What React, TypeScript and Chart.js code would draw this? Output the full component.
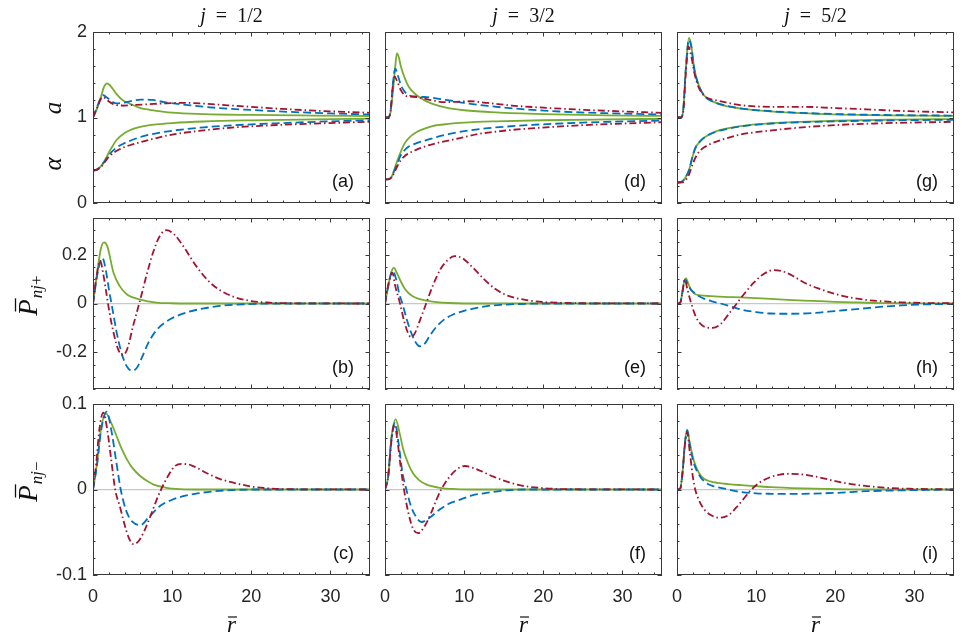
import { useEffect, useRef } from "react"
import { Chart, registerables } from "chart.js"

Chart.register(...registerables)

type Pt = [number, number]

// ---- labels / ticks ----
const columnTitles = ["1/2", "3/2", "5/2"]
const panelLabels = [
  ["(a)", "(d)", "(g)"],
  ["(b)", "(e)", "(h)"],
  ["(c)", "(f)", "(i)"],
]
const xMajor = [0, 10, 20, 30]
const yMajorTop = [0, 1, 2]
const yMajorPlus = [-0.2, 0, 0.2]
const yMajorMinus = [-0.1, 0, 0.1]

// ---- row 1: a (upper) and alpha (lower) ----
const aJ1Green: Pt[] = [[0,1],[0.5,1.1],[1,1.24],[1.4,1.36],[1.77,1.4],[2.2,1.37],[3,1.27],[3.8,1.2],[4.7,1.16],[6,1.11],[7.2,1.09],[10,1.056],[14,1.04],[20,1.03],[28,1.022],[35,1.016]]
const aJ1Blue: Pt[] = [[0,1],[0.5,1.12],[1,1.23],[1.3,1.26],[1.8,1.23],[2.5,1.18],[3,1.165],[4,1.175],[5,1.195],[6,1.21],[7.5,1.205],[9,1.18],[12,1.145],[16,1.11],[20,1.088],[25,1.065],[30,1.048],[35,1.035]]
const aJ1Red: Pt[] = [[0,1],[0.5,1.11],[1,1.22],[1.3,1.24],[1.8,1.2],[2.5,1.16],[3,1.145],[4,1.14],[5,1.145],[7,1.155],[9,1.165],[11.5,1.172],[14,1.162],[17,1.143],[20,1.125],[24,1.1],[28,1.08],[35,1.055]]
const alphaJ1Green: Pt[] = [[0,0.38],[0.5,0.39],[1,0.43],[1.5,0.5],[2,0.59],[2.5,0.67],[3,0.74],[4,0.82],[5,0.865],[6.5,0.9],[8,0.92],[10,0.935],[14,0.953],[20,0.967],[28,0.979],[35,0.986]]
const alphaJ1Blue: Pt[] = [[0,0.38],[0.5,0.39],[1,0.43],[1.5,0.49],[2,0.56],[3,0.65],[4,0.7],[5,0.74],[6.5,0.785],[8,0.815],[10,0.845],[14,0.885],[18,0.91],[24,0.935],[30,0.955],[35,0.968]]
const alphaJ1Red: Pt[] = [[0,0.38],[0.5,0.39],[1,0.42],[1.5,0.48],[2,0.54],[3,0.61],[4,0.655],[5,0.685],[6.5,0.725],[8,0.76],[10,0.8],[14,0.85],[18,0.885],[24,0.915],[30,0.935],[35,0.95]]

const aJ3Green: Pt[] = [[0,1],[0.4,1],[0.7,1.06],[1,1.3],[1.3,1.6],[1.5,1.75],[1.7,1.72],[2,1.6],[2.5,1.46],[3,1.36],[4,1.26],[5,1.2],[6,1.16],[8,1.11],[10,1.085],[14,1.06],[20,1.04],[28,1.025],[35,1.018]]
const aJ3Blue: Pt[] = [[0,1],[0.4,1],[0.7,1.08],[1,1.4],[1.3,1.57],[1.6,1.5],[2,1.38],[2.5,1.3],[3,1.26],[4,1.245],[5,1.24],[6,1.23],[7,1.215],[8.5,1.195],[10,1.17],[13,1.135],[17,1.1],[22,1.07],[28,1.05],[35,1.035]]
const aJ3Red: Pt[] = [[0,1],[0.4,1],[0.7,1.07],[1,1.38],[1.2,1.48],[1.5,1.43],[2,1.32],[2.5,1.26],[3,1.245],[4,1.24],[5,1.22],[6,1.2],[7.5,1.18],[9,1.183],[10.7,1.19],[13,1.17],[16,1.14],[20,1.115],[26,1.086],[35,1.055]]
const alphaJ3Green: Pt[] = [[0,0.277],[0.5,0.28],[0.8,0.3],[1.1,0.37],[1.5,0.48],[2,0.6],[2.5,0.7],[3,0.76],[4,0.83],[5,0.87],[6,0.9],[8,0.925],[10,0.94],[14,0.955],[20,0.968],[28,0.978],[35,0.985]]
const alphaJ3Blue: Pt[] = [[0,0.277],[0.5,0.28],[0.8,0.3],[1.1,0.36],[1.5,0.45],[2,0.56],[2.5,0.62],[3,0.66],[4,0.7],[5,0.73],[6.5,0.77],[8,0.805],[10,0.84],[13,0.875],[18,0.91],[25,0.94],[35,0.965]]
const alphaJ3Red: Pt[] = [[0,0.277],[0.5,0.28],[0.8,0.3],[1.1,0.34],[1.5,0.42],[2,0.5],[2.5,0.55],[3,0.58],[4,0.625],[5,0.66],[6.5,0.7],[8,0.73],[10,0.77],[12,0.81],[15,0.845],[18,0.87],[25,0.91],[35,0.945]]

const aJ5Green: Pt[] = [[0,1],[0.5,1],[0.8,1.1],[1.1,1.55],[1.5,1.93],[1.8,1.85],[2.15,1.59],[2.6,1.42],[3.4,1.26],[4.7,1.18],[6.4,1.13],[8.5,1.1],[10.6,1.08],[14.8,1.055],[23,1.03],[35,1.018]]
const aJ5Blue: Pt[] = [[0,1],[0.5,1],[0.8,1.1],[1.1,1.55],[1.5,1.91],[1.8,1.83],[2.15,1.58],[2.6,1.41],[3.4,1.26],[4.7,1.18],[6.4,1.135],[8.5,1.1],[10.6,1.082],[14.8,1.058],[23,1.034],[35,1.022]]
const aJ5Red: Pt[] = [[0,1],[0.5,1],[0.8,1.08],[1.1,1.5],[1.45,1.83],[1.8,1.72],[2.2,1.52],[2.7,1.36],[3.5,1.25],[5,1.2],[6.5,1.17],[8,1.145],[10,1.13],[12,1.125],[16,1.125],[20,1.11],[24,1.095],[28,1.078],[35,1.06]]
const alphaJ5Green: Pt[] = [[0,0.246],[0.6,0.25],[1,0.29],[1.5,0.38],[1.9,0.52],[2.3,0.64],[3,0.73],[3.5,0.77],[5,0.84],[6.5,0.875],[8,0.9],[12,0.935],[20,0.962],[28,0.975],[35,0.982]]
const alphaJ5Blue: Pt[] = [[0,0.246],[0.6,0.25],[1,0.29],[1.5,0.38],[1.9,0.52],[2.3,0.64],[3,0.73],[3.5,0.77],[5,0.835],[6.5,0.87],[8,0.895],[12,0.93],[20,0.955],[28,0.967],[35,0.974]]
const alphaJ5Red: Pt[] = [[0,0.234],[0.6,0.24],[1,0.26],[1.5,0.33],[2,0.46],[2.5,0.56],[3,0.62],[4,0.68],[6,0.75],[8,0.8],[12,0.85],[18,0.9],[25,0.93],[35,0.95]]

// ---- row 2: P_{nj+} ----
const pPlusJ1Green: Pt[] = [[0,0],[0.5,0.12],[1,0.225],[1.4,0.25],[1.8,0.235],[2.6,0.125],[3.4,0.07],[4.3,0.037],[6,0.016],[8,0.004],[10,0.001],[12,0],[35,0]]
const pPlusJ1Blue: Pt[] = [[0,0],[0.5,0.11],[1,0.18],[1.2,0.186],[1.6,0.14],[2,0.06],[2.5,-0.03],[3,-0.12],[3.5,-0.19],[4,-0.24],[4.5,-0.268],[4.9,-0.275],[5.5,-0.265],[6.2,-0.22],[7,-0.16],[8,-0.11],[9,-0.08],[10,-0.06],[12,-0.035],[14,-0.02],[16,-0.01],[18,-0.005],[21,-0.001],[25,0],[35,0]]
const pPlusJ1Red: Pt[] = [[0,0],[0.4,0.1],[0.9,0.175],[1.3,0.12],[1.7,0.04],[2.1,-0.04],[2.6,-0.12],[3.2,-0.19],[3.8,-0.212],[4.4,-0.18],[5,-0.1],[5.5,-0.04],[6,0.02],[6.8,0.12],[7.6,0.21],[8.5,0.28],[9.3,0.3],[10.2,0.285],[11.5,0.23],[13,0.155],[14.5,0.095],[16,0.055],[18,0.025],[20,0.01],[22,0.004],[25,0.001],[35,0]]

const pPlusJ3Green: Pt[] = [[0,0],[0.4,0.07],[0.8,0.13],[1.14,0.146],[1.5,0.125],[2,0.09],[2.5,0.06],[3,0.042],[3.5,0.03],[4.2,0.02],[5.2,0.012],[6.5,0.006],[8,0.002],[10,0],[35,0]]
const pPlusJ3Blue: Pt[] = [[0,0],[0.4,0.07],[0.8,0.125],[1,0.133],[1.4,0.1],[1.8,0.04],[2.2,0],[2.7,-0.06],[3.2,-0.11],[3.8,-0.155],[4.4,-0.175],[5,-0.165],[5.7,-0.13],[6.5,-0.095],[7.5,-0.065],[8.6,-0.045],[10,-0.03],[11.6,-0.018],[13,-0.01],[14.5,-0.006],[17,-0.002],[20,0],[35,0]]
const pPlusJ3Red: Pt[] = [[0,0],[0.4,0.075],[0.93,0.126],[1.3,0.07],[1.9,0],[2.4,-0.07],[2.9,-0.12],[3.3,-0.138],[3.8,-0.12],[4.4,-0.07],[5.2,0],[6,0.07],[7,0.14],[8,0.18],[8.8,0.194],[9.8,0.185],[11,0.15],[12.5,0.1],[14,0.058],[15.5,0.032],[17.9,0.014],[20,0.006],[22,0.003],[25,0.001],[35,0]]

const pPlusJ5Green: Pt[] = [[0,0],[0.4,0.003],[0.7,0.05],[0.9,0.09],[1.14,0.103],[1.5,0.075],[1.9,0.05],[2.4,0.037],[3,0.033],[4.3,0.03],[6,0.027],[8.1,0.025],[10,0.022],[11.9,0.019],[14,0.015],[16,0.012],[18,0.0095],[19.9,0.007],[22,0.005],[24,0.003],[26,0.0018],[28,0.001],[31,0.0004],[35,0]]
const pPlusJ5Blue: Pt[] = [[0,0],[0.4,0.003],[0.7,0.05],[0.9,0.088],[1.05,0.098],[1.4,0.075],[1.8,0.055],[2.2,0.044],[2.8,0.03],[3.4,0.02],[4.4,0.009],[5.5,0],[6.8,-0.012],[8.1,-0.025],[10,-0.035],[11.9,-0.041],[14,-0.042],[16,-0.041],[18,-0.037],[19.9,-0.031],[22,-0.025],[24,-0.019],[26,-0.013],[28.3,-0.008],[31,-0.004],[35,-0.002]]
const pPlusJ5Red: Pt[] = [[0,0],[0.4,0.003],[0.7,0.05],[0.9,0.09],[1,0.098],[1.3,0.06],[1.8,0],[2.4,-0.055],[3.2,-0.09],[4.5,-0.1],[5.5,-0.085],[6.5,-0.045],[7.55,0],[8.5,0.04],[9.7,0.085],[11,0.122],[12.3,0.137],[13.5,0.13],[14.8,0.11],[16.1,0.085],[18,0.06],[19.9,0.04],[22,0.024],[24.1,0.014],[26,0.009],[28.3,0.005],[31,0.002],[35,0.001]]

// ---- row 3: P_{nj-} ----
const pMinusJ1Green: Pt[] = [[0,0],[0.5,0.03],[1,0.07],[1.65,0.089],[2.2,0.08],[3,0.062],[3.6,0.048],[4.3,0.035],[5,0.025],[6,0.0155],[7,0.009],[7.6,0.006],[9.3,0.002],[11,0.0005],[14,0],[35,0]]
const pMinusJ1Blue: Pt[] = [[0,0],[0.5,0.028],[1,0.068],[1.73,0.091],[2.3,0.07],[2.9,0.035],[3.5,0],[4.2,-0.025],[5,-0.038],[6,-0.0415],[7,-0.033],[8.5,-0.019],[10,-0.012],[11.4,-0.0078],[12.9,-0.005],[14.4,-0.003],[16,-0.0015],[18,-0.0005],[20,0],[35,0]]
const pMinusJ1Red: Pt[] = [[0,0],[0.4,0.03],[0.8,0.07],[1.3,0.09],[1.8,0.07],[2.3,0.035],[2.8,0],[3.4,-0.02],[3.9,-0.038],[4.5,-0.056],[5.1,-0.064],[5.8,-0.06],[6.5,-0.048],[7.3,-0.03],[8,-0.013],[8.6,0],[9.5,0.016],[10.3,0.027],[11.2,0.03],[12.5,0.028],[14.4,0.019],[16,0.0125],[17.8,0.0078],[20.3,0.003],[22,0.0015],[24,0.0005],[35,0]]

const pMinusJ3Green: Pt[] = [[0,0],[0.4,0.015],[0.8,0.06],[1.35,0.082],[1.8,0.068],[2.3,0.047],[2.9,0.031],[3.5,0.0196],[4.3,0.011],[5.2,0.006],[6.9,0.002],[9,0.0005],[12,0],[35,0]]
const pMinusJ3Blue: Pt[] = [[0,0],[0.4,0.015],[0.8,0.058],[1.27,0.078],[1.7,0.055],[2.2,0.02],[2.7,0],[3.3,-0.02],[4,-0.033],[4.6,-0.038],[5.5,-0.034],[6.9,-0.0235],[8,-0.017],[9.5,-0.0118],[11,-0.007],[12.8,-0.004],[15.4,-0.001],[18,0],[35,0]]
const pMinusJ3Red: Pt[] = [[0,0],[0.4,0.015],[0.8,0.056],[1.2,0.076],[1.6,0.055],[2,0.025],[2.4,0],[2.9,-0.025],[3.5,-0.045],[4.2,-0.051],[5,-0.043],[5.8,-0.028],[6.5,-0.012],[7.1,0],[8,0.013],[9,0.023],[10.1,0.0275],[11.5,0.024],[13.7,0.015],[15.5,0.009],[17,0.005],[20,0.0016],[23,0.0004],[35,0]]

const pMinusJ5Green: Pt[] = [[0,0],[0.4,0.001],[0.7,0.02],[1,0.055],[1.3,0.07],[1.6,0.055],[2.15,0.033],[2.8,0.019],[3.4,0.0125],[4.2,0.0095],[5.1,0.0078],[6.5,0.0063],[8.1,0.0051],[10,0.0039],[11.9,0.0027],[14,0.0019],[16,0.0012],[19,0.0006],[22,0.0002],[26,0],[35,0]]
const pMinusJ5Blue: Pt[] = [[0,0],[0.4,0.001],[0.7,0.02],[1,0.054],[1.3,0.069],[1.6,0.053],[2.15,0.03],[2.8,0.017],[3.4,0.0098],[4.4,0.0045],[5.5,0.002],[6.5,0],[8.1,-0.003],[10,-0.0045],[11.9,-0.005],[14,-0.0052],[16,-0.005],[19.9,-0.004],[24,-0.002],[28.3,-0.001],[35,0]]
const pMinusJ5Red: Pt[] = [[0,0],[0.4,0.001],[0.7,0.02],[1,0.052],[1.27,0.067],[1.6,0.045],[2,0.015],[2.3,0],[2.8,-0.013],[3.5,-0.024],[4.5,-0.031],[5.5,-0.033],[6.5,-0.03],[7.5,-0.021],[8.5,-0.01],[9.4,0],[10.5,0.0085],[11.8,0.0145],[13,0.0175],[14.2,0.0184],[15.5,0.018],[17,0.016],[18.2,0.0137],[20,0.0098],[22,0.0063],[24,0.004],[25.8,0.0024],[28,0.0012],[30,0.0008],[32,0.0004],[35,0.0002]]

const GREEN = "#77AC30"
const BLUE = "#0072BD"
const RED = "#A2142F"
const AXIS = "#383838"

// red first so it sits on top (chart.js draws dataset 0 last)
const panelSeries: [Pt[], string][][][] = [
  [
    [[aJ1Red, RED], [alphaJ1Red, RED], [aJ1Blue, BLUE], [alphaJ1Blue, BLUE], [aJ1Green, GREEN], [alphaJ1Green, GREEN]],
    [[aJ3Red, RED], [alphaJ3Red, RED], [aJ3Blue, BLUE], [alphaJ3Blue, BLUE], [aJ3Green, GREEN], [alphaJ3Green, GREEN]],
    [[aJ5Red, RED], [alphaJ5Red, RED], [aJ5Blue, BLUE], [alphaJ5Blue, BLUE], [aJ5Green, GREEN], [alphaJ5Green, GREEN]],
  ],
  [
    [[pPlusJ1Red, RED], [pPlusJ1Blue, BLUE], [pPlusJ1Green, GREEN]],
    [[pPlusJ3Red, RED], [pPlusJ3Blue, BLUE], [pPlusJ3Green, GREEN]],
    [[pPlusJ5Red, RED], [pPlusJ5Blue, BLUE], [pPlusJ5Green, GREEN]],
  ],
  [
    [[pMinusJ1Red, RED], [pMinusJ1Blue, BLUE], [pMinusJ1Green, GREEN]],
    [[pMinusJ3Red, RED], [pMinusJ3Blue, BLUE], [pMinusJ3Green, GREEN]],
    [[pMinusJ5Red, RED], [pMinusJ5Blue, BLUE], [pMinusJ5Green, GREEN]],
  ],
]

const rowAxes = [
  { min: 0, max: 2, step: 0.2, majors: yMajorTop, zero: false },
  { min: -0.35, max: 0.35, step: 0.05, majors: yMajorPlus, zero: true },
  { min: -0.1, max: 0.1, step: 0.02, majors: yMajorMinus, zero: true },
]

// layout (px)
const PLOT_LEFT = [93, 385, 677]
const PLOT_TOP = [32, 218, 404]
const PLOT_W = 277
const PLOT_H = 171
const PAD_L = 90
const PAD_R = 12
const PAD_T = 32
const PAD_B = 64

const isIn = (list: number[], v: number) => list.some((m) => Math.abs(m - v) < 1e-6)

const dashFor = (c: string) => (c === BLUE ? [8, 4] : c === RED ? [7, 3, 1.5, 3] : [])

const decor = {
  id: "decor",
  afterDraw(chart: any, _args: any, o: any) {
    const { ctx, chartArea: a } = chart
    const xs = chart.scales.x
    const ys = chart.scales.y
    ctx.save()

    // inward tick marks on all four sides
    ctx.strokeStyle = AXIS
    ctx.lineWidth = 1
    ctx.beginPath()
    for (const t of xs.ticks) {
      const px = Math.round(xs.getPixelForValue(t.value)) + 0.5
      const len = isIn(xMajor, t.value) ? 4.5 : 2.5
      ctx.moveTo(px, a.bottom)
      ctx.lineTo(px, a.bottom - len)
      ctx.moveTo(px, a.top)
      ctx.lineTo(px, a.top + len)
    }
    for (const t of ys.ticks) {
      const py = Math.round(ys.getPixelForValue(t.value)) + 0.5
      const len = isIn(o.majors, t.value) ? 4.5 : 2.5
      ctx.moveTo(a.left, py)
      ctx.lineTo(a.left + len, py)
      ctx.moveTo(a.right, py)
      ctx.lineTo(a.right - len, py)
    }
    ctx.stroke()
    ctx.strokeRect(Math.round(a.left) + 0.5, Math.round(a.top) + 0.5, Math.round(a.right - a.left) - 1, Math.round(a.bottom - a.top) - 1)

    ctx.fillStyle = "#111"
    ctx.strokeStyle = "#111"

    // panel letter
    ctx.font = '18px "Liberation Sans"'
    ctx.textAlign = "right"
    ctx.textBaseline = "middle"
    ctx.fillText(o.label, a.right - 16, a.bottom - 21)

    ctx.textAlign = "left"
    ctx.textBaseline = "alphabetic"

    // column title  j = 1/2
    if (o.colTitle) {
      const fi = 'italic 20px "Liberation Serif"'
      const fr = '20px "Liberation Serif"'
      const rest = "\u2002=\u2002" + o.colTitle
      ctx.font = fi
      const wj = ctx.measureText("j").width
      ctx.font = fr
      const wr = ctx.measureText(rest).width
      let x = (a.left + a.right) / 2 - (wj + wr) / 2
      const y = a.top - 10
      ctx.font = fi
      ctx.fillText("j", x, y)
      x += wj
      ctx.font = fr
      ctx.fillText(rest, x, y)
    }

    // y titles
    if (o.yTitle === "alpha") {
      ctx.font = 'italic 25px "Liberation Serif"'
      ctx.textAlign = "center"
      for (const [txt, dy] of [["a", 76], ["\u03b1", 132]] as [string, number][]) {
        ctx.save()
        ctx.translate(a.left - 32, a.top + dy)
        ctx.rotate(-Math.PI / 2)
        ctx.fillText(txt, 0, 0)
        ctx.restore()
      }
    } else if (o.yTitle) {
      const sign = o.yTitle
      ctx.save()
      ctx.translate(a.left - 56, (a.top + a.bottom) / 2 - 8)
      ctx.rotate(-Math.PI / 2)
      const fP = 'italic 27px "Liberation Serif"'
      const fs = 'italic 17px "Liberation Serif"'
      const fsr = '17px "Liberation Serif"'
      ctx.font = fP
      const wP = ctx.measureText("P").width
      ctx.font = fs
      const wnj = ctx.measureText("nj").width
      ctx.font = fsr
      const wsg = ctx.measureText(sign).width
      let x = -(wP + 1 + wnj + wsg) / 2
      ctx.font = fP
      ctx.fillText("P", x, 0)
      ctx.lineWidth = 1.3
      ctx.beginPath()
      ctx.moveTo(x + 0.25 * wP, -21.5)
      ctx.lineTo(x + 1.05 * wP, -21.5)
      ctx.stroke()
      x += wP + 1
      ctx.font = fs
      ctx.fillText("nj", x, 5)
      x += wnj
      ctx.font = fsr
      ctx.fillText(sign, x, 5)
      ctx.restore()
    }

    // x title r-bar
    if (o.xTitle) {
      ctx.font = 'italic 23px "Liberation Serif"'
      ctx.textAlign = "left"
      const w = ctx.measureText("r").width
      const cx = (a.left + a.right) / 2
      const base = a.bottom + 57
      ctx.fillText("r", cx - w / 2, base)
      ctx.lineWidth = 1.2
      ctx.beginPath()
      ctx.moveTo(cx - w / 2 + 1, base - 15)
      ctx.lineTo(cx + w / 2 + 1, base - 15)
      ctx.stroke()
    }
    ctx.restore()
  },
}

function Panel({ row, col }: { row: number; col: number }) {
  const ref = useRef<HTMLCanvasElement>(null)

  useEffect(() => {
    if (!ref.current) return
    const ax = rowAxes[row]
    const tickFont = { family: '"Liberation Sans"', size: 18 }

    const chart = new Chart(ref.current, {
      type: "line",
      data: {
        datasets: panelSeries[row][col].map(([pts, color]) => ({
          data: pts.map(([x, y]) => ({ x, y })),
          borderColor: color,
          borderWidth: 1.8,
          borderDash: dashFor(color),
          pointRadius: 0,
          fill: false,
          cubicInterpolationMode: "monotone" as const,
        })),
      },
      options: {
        animation: false,
        responsive: true,
        maintainAspectRatio: false,
        events: [],
        layout: { padding: { left: 0, top: PAD_T, right: PAD_R, bottom: 0 } },
        plugins: {
          legend: { display: false },
          tooltip: { enabled: false },
          title: { display: false },
          decor: {
            label: panelLabels[row][col],
            majors: ax.majors,
            colTitle: row === 0 ? columnTitles[col] : null,
            yTitle: col === 0 ? (row === 0 ? "alpha" : row === 1 ? "+" : "\u2212") : null,
            xTitle: row === 2,
          },
        } as any,
        scales: {
          x: {
            type: "linear",
            min: 0,
            max: 35,
            afterFit: (s: any) => { s.height = PAD_B },
            grid: { display: false, drawTicks: false },
            border: { display: false },
            ticks: {
              display: row === 2,
              stepSize: 2,
              includeBounds: false,
              autoSkip: false,
              maxRotation: 0,
              padding: 11,
              color: "#262626",
              font: tickFont,
              callback: (v: any) => (isIn(xMajor, Number(v)) ? String(Math.round(Number(v))) : ""),
            },
          },
          y: {
            type: "linear",
            min: ax.min,
            max: ax.max,
            afterFit: (s: any) => { s.width = PAD_L },
            grid: {
              drawTicks: false,
              lineWidth: 1.2,
              color: (c: any) => (ax.zero && Math.abs(c.tick.value) < 1e-9 ? "#c8c8c8" : "rgba(0,0,0,0)"),
            },
            border: { display: false },
            ticks: {
              display: col === 0,
              stepSize: ax.step,
              autoSkip: false,
              padding: 6,
              color: "#262626",
              font: tickFont,
              callback: (v: any) => (isIn(ax.majors, Number(v)) ? String(Math.round(Number(v) * 10) / 10) : ""),
            },
          },
        },
      },
      plugins: [decor],
    })

    return () => { chart.destroy() }
  }, [row, col])

  return (
    <div
      style={{
        position: "absolute",
        left: PLOT_LEFT[col] - PAD_L,
        top: PLOT_TOP[row] - PAD_T,
        width: PLOT_W + PAD_L + PAD_R,
        height: PLOT_H + PAD_T + PAD_B,
      }}
    >
      <canvas ref={ref} />
    </div>
  )
}

export default function App() {
  return (
    <div style={{ position: "fixed", left: 0, top: 0, width: 969, height: 639, background: "#fff" }}>
      {[0, 1, 2].map((r) => [0, 1, 2].map((c) => <Panel key={`${r}-${c}`} row={r} col={c} />))}
    </div>
  )
}
